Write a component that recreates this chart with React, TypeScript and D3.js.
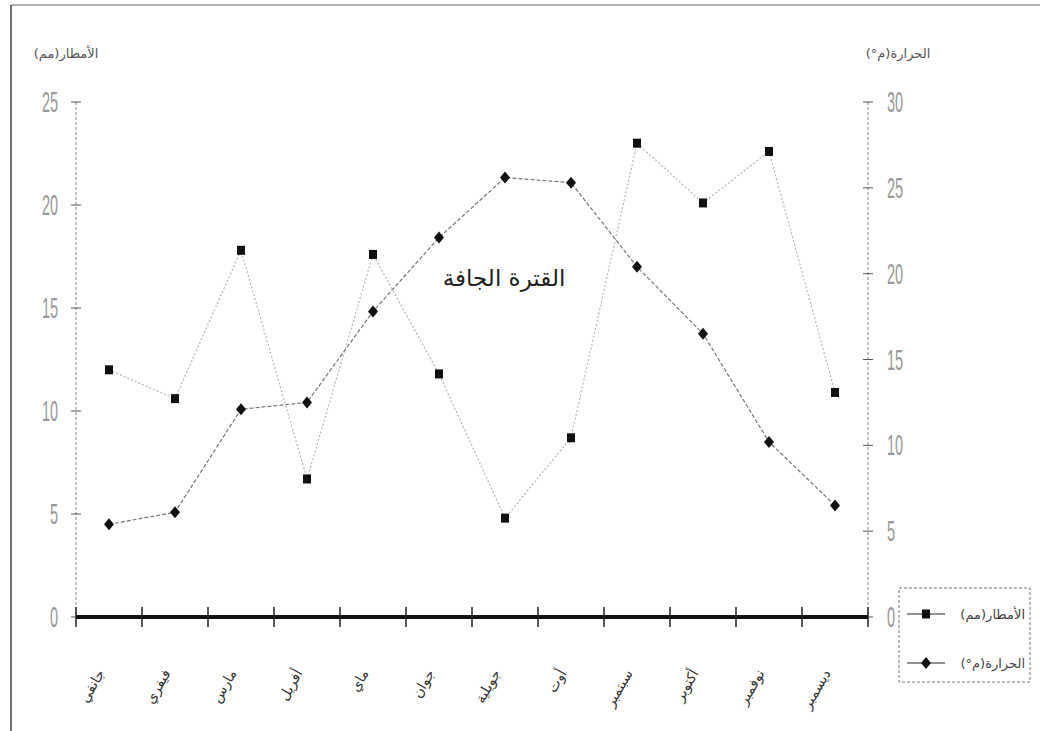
import React from "react";
import * as d3 from "d3";

// Monthly climate values
const months = ["جانفي", "فيفري", "مارس", "أفريل", "ماي", "جوان", "جويلية", "أوت", "سبتمبر", "أكتوبر", "نوفمبر", "ديسمبر"];
const rainfall = [12.0, 10.6, 17.8, 6.7, 17.6, 11.8, 4.8, 8.7, 23.0, 20.1, 22.6, 10.9];
const temperature = [5.4, 6.1, 12.1, 12.5, 17.8, 22.1, 25.6, 25.3, 20.4, 16.5, 10.2, 6.5];
const rainTicks = [0, 5, 10, 15, 20, 25];
const tempTicks = [0, 5, 10, 15, 20, 25, 30];

const rainTitle = "الأمطار(مم)";
const tempTitle = "الحرارة(م°)";
const dryLabel = "القترة الجافة";

const W = 1044;
const H = 731;
const left = 76;
const right = 868;
const top = 102;
const bottom = 617;

const arabicFont = "'DejaVu Sans', sans-serif";
const numFont = "'Liberation Sans', 'DejaVu Sans', sans-serif";

export default function App() {
  const x = d3.scaleBand<string>().domain(months).range([left, right]);
  const bw = x.bandwidth();
  const cx = (m: string) => (x(m) as number) + bw / 2;
  const yRain = d3.scaleLinear().domain([0, 25]).range([bottom, top]);
  const yTemp = d3.scaleLinear().domain([0, 30]).range([bottom, top]);

  const rainLine = d3
    .line<number>()
    .x((_, i) => cx(months[i]))
    .y((d) => yRain(d));
  const tempLine = d3
    .line<number>()
    .x((_, i) => cx(months[i]))
    .y((d) => yTemp(d));

  const boundaries = months.map((m) => (x(m) as number) + bw);

  const square = (px: number, py: number, k: string | number) => (
    <rect key={k} x={px - 4} y={py - 4.5} width={8} height={9} fill="#111" />
  );
  const diamond = (px: number, py: number, k: string | number) => (
    <path key={k} d={`M${px},${py - 6}L${px + 5},${py}L${px},${py + 6}L${px - 5},${py}Z`} fill="#111" />
  );

  // tall, narrow numerals on both value axes
  const tickLabel = (tx: number, ty: number, anchor: string, t: number, k: string) => (
    <text
      key={k}
      transform={`translate(${tx},${ty + 10}) scale(0.5,1)`}
      textAnchor={anchor}
      fontFamily={numFont}
      fontSize={29}
      fill="#999"
    >
      {t}
    </text>
  );

  return (
    <svg
      width={W}
      height={H}
      style={{ position: "absolute", left: 0, top: 0, background: "#fff" }}
      xmlns="http://www.w3.org/2000/svg"
    >
      <rect x={0} y={0} width={W} height={H} fill="#fff" />
      {/* outer frame */}
      <line x1={11} y1={5} x2={1040} y2={5} stroke="#666" strokeWidth={1} />
      <line x1={11} y1={5} x2={11} y2={H} stroke="#444" strokeWidth={1.5} />

      {/* axis titles */}
      <text x={66} y={58} fontFamily={arabicFont} fontSize={13} fill="#555" textAnchor="middle">
        {rainTitle}
      </text>
      <text x={898} y={58} fontFamily={arabicFont} fontSize={13} fill="#555" textAnchor="middle">
        {tempTitle}
      </text>

      {/* left axis */}
      <line x1={left} y1={top} x2={left} y2={bottom} stroke="#888" strokeWidth={1} strokeDasharray="3,2" />
      {rainTicks.map((t) => (
        <g key={"rl" + t}>
          <line x1={left - 5} x2={left + 5} y1={yRain(t)} y2={yRain(t)} stroke="#555" />
          {tickLabel(58, yRain(t), "end", t, "rt" + t)}
        </g>
      ))}

      {/* right axis */}
      <line x1={right} y1={top} x2={right} y2={bottom} stroke="#888" strokeWidth={1} strokeDasharray="3,2" />
      {tempTicks.map((t) => (
        <g key={"tr" + t}>
          <line x1={right - 5} x2={right + 5} y1={yTemp(t)} y2={yTemp(t)} stroke="#555" />
          {tickLabel(887, yTemp(t), "start", t, "tt" + t)}
        </g>
      ))}

      {/* category axis */}
      <line x1={left} y1={bottom} x2={right} y2={bottom} stroke="#111" strokeWidth={4} />
      {[left, ...boundaries].map((bx, i) => (
        <line key={"xt" + i} x1={bx} x2={bx} y1={bottom - 10} y2={bottom + 10} stroke="#222" strokeWidth={1.5} />
      ))}
      {months.map((m) => (
        <text
          key={"ml" + m}
          transform={`translate(${cx(m) - 4},${bottom + 56}) rotate(-60)`}
          textAnchor="end"
          fontFamily={arabicFont}
          fontSize={14}
          fill="#333"
        >
          {m}
        </text>
      ))}

      {/* series lines */}
      <path d={rainLine(rainfall) || ""} fill="none" stroke="#b5b5b5" strokeWidth={1.2} strokeDasharray="2,2" />
      <path d={tempLine(temperature) || ""} fill="none" stroke="#777" strokeWidth={1.2} strokeDasharray="4,2" />

      {rainfall.map((v, i) => square(cx(months[i]), yRain(v), "rs" + i))}
      {temperature.map((v, i) => diamond(cx(months[i]), yTemp(v), "td" + i))}

      {/* dry period label */}
      <text x={504} y={286} textAnchor="middle" fontFamily={arabicFont} fontSize={23} fill="#222">
        {dryLabel}
      </text>

      {/* legend */}
      <rect x={899} y={588} width={131} height={94} fill="#fff" stroke="#777" strokeDasharray="3,2" />
      <line x1={907} x2={945} y1={614} y2={614} stroke="#222" strokeWidth={1.2} />
      {square(926, 614, "lg1")}
      <text x={1025} y={619} textAnchor="end" fontFamily={arabicFont} fontSize={13} fill="#444">
        {rainTitle}
      </text>
      <line x1={907} x2={945} y1={663} y2={663} stroke="#222" strokeWidth={1.2} />
      {diamond(926, 663, "lg2")}
      <text x={1025} y={668} textAnchor="end" fontFamily={arabicFont} fontSize={13} fill="#444">
        {tempTitle}
      </text>
    </svg>
  );
}
